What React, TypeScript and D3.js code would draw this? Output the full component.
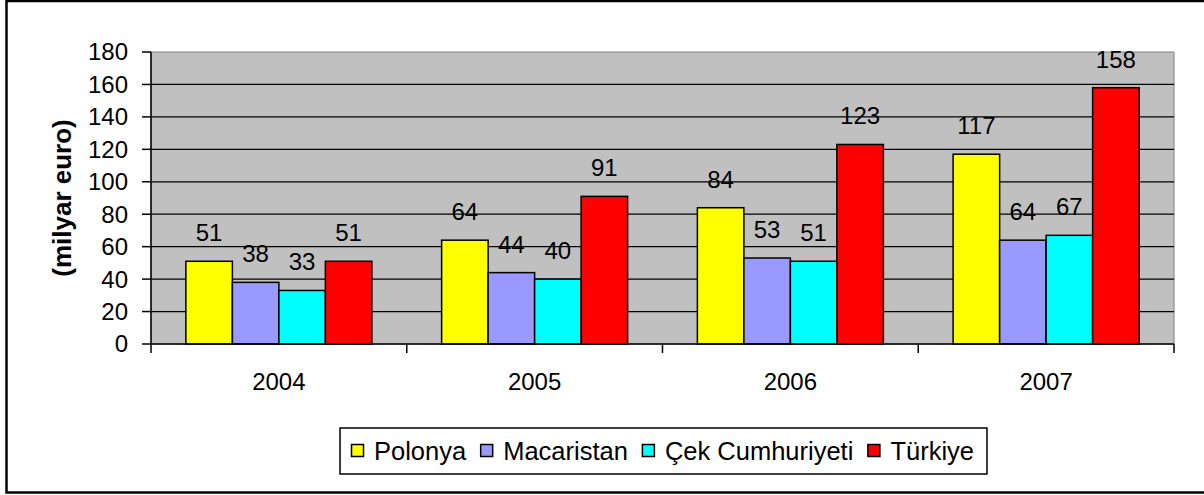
import { useEffect, useRef } from "react";
import * as d3 from "d3";

const YEARS = ["2004", "2005", "2006", "2007"];
const SERIES = ["Polonya", "Macaristan", "Çek Cumhuriyeti", "Türkiye"];
const COLORS = ["#FFFF00", "#9999FF", "#00FFFF", "#FF0000"];
const Y_TICKS = [0, 20, 40, 60, 80, 100, 120, 140, 160, 180];

const POLONYA = [51, 64, 84, 117];
const MACARISTAN = [38, 44, 53, 64];
const CEK = [33, 40, 51, 67];
const TURKIYE = [51, 91, 123, 158];

const VALUES = [POLONYA, MACARISTAN, CEK, TURKIYE];

const W = 1204;
const H = 495;
const PLOT = { left: 151, right: 1174, top: 52, bottom: 344 };
const FONT = "'Liberation Sans', Arial, sans-serif";
const FS = 24;

export default function App() {
  const legendRef = useRef<SVGGElement>(null);

  const x0 = d3.scaleBand().domain(YEARS).range([PLOT.left, PLOT.right]).paddingInner(0).paddingOuter(0);
  const x1 = d3.scaleBand().domain(SERIES).range([0, x0.bandwidth()]).paddingInner(0).paddingOuter(0.75);
  const y = d3.scaleLinear().domain([0, 180]).range([PLOT.bottom, PLOT.top]);

  // legend laid out from measured text widths
  useEffect(() => {
    const g = d3.select(legendRef.current);
    g.selectAll("*").remove();
    const box = g.append("rect").attr("fill", "white").attr("stroke", "black").attr("stroke-width", 1.5);
    const items = g.append("g");
    let cx = 0;
    SERIES.forEach((s, i) => {
      const it = items.append("g").attr("transform", `translate(${cx},0)`);
      it.append("rect")
        .attr("x", 0.5).attr("y", -6.5).attr("width", 12).attr("height", 12)
        .attr("fill", COLORS[i]).attr("stroke", "black").attr("stroke-width", 1.5);
      const t = it.append("text")
        .attr("x", 23).attr("y", 8.5)
        .attr("font-family", FONT).attr("font-size", 25.5)
        .text(s);
      const tw = (t.node() as SVGTextElement).getComputedTextLength();
      cx += 23 + tw + 14;
    });
    const total = cx - 14;
    const center = (PLOT.left + PLOT.right) / 2;
    const left = center - total / 2;
    items.attr("transform", `translate(${left},451)`);
    box.attr("x", left - 11).attr("y", 428).attr("width", total + 24).attr("height", 46);
  }, []);

  return (
    <div style={{ position: "absolute", left: 0, top: 0 }}>
      <svg width={W} height={H} style={{ display: "block" }}>
        <rect x={0} y={0} width={W} height={H} fill="white" />
        <rect x={6.5} y={1} width={W + 10} height={491.5} fill="none" stroke="black" strokeWidth={2.5} />

        {/* plot area */}
        <rect x={PLOT.left} y={PLOT.top} width={PLOT.right - PLOT.left} height={PLOT.bottom - PLOT.top} fill="#C0C0C0" stroke="#808080" strokeWidth={1} />
        {Y_TICKS.filter((t) => t > 0 && t < 180).map((t) => (
          <line key={t} x1={PLOT.left} x2={PLOT.right} y1={y(t)} y2={y(t)} stroke="black" strokeWidth={1.3} />
        ))}

        {/* bars */}
        {YEARS.map((yr, gi) => (
          <g key={yr} transform={`translate(${x0(yr)},0)`}>
            {SERIES.map((s, si) => {
              const v = VALUES[si][gi];
              return (
                <g key={s}>
                  <rect
                    x={x1(s)}
                    y={y(v)}
                    width={x1.bandwidth()}
                    height={y(0) - y(v)}
                    fill={COLORS[si]}
                    stroke="black"
                    strokeWidth={1.5}
                  />
                  <text
                    x={(x1(s) as number) + x1.bandwidth() / 2}
                    y={y(v) - 20}
                    textAnchor="middle"
                    fontFamily={FONT}
                    fontSize={FS}
                  >
                    {v}
                  </text>
                </g>
              );
            })}
          </g>
        ))}

        {/* axes */}
        <line x1={PLOT.left} x2={PLOT.left} y1={PLOT.top} y2={PLOT.bottom} stroke="black" strokeWidth={1.5} />
        <line x1={PLOT.left} x2={PLOT.right} y1={PLOT.bottom} y2={PLOT.bottom} stroke="black" strokeWidth={1.5} />
        {Y_TICKS.map((t) => (
          <g key={t}>
            <line x1={PLOT.left - 9} x2={PLOT.left} y1={y(t)} y2={y(t)} stroke="black" strokeWidth={1.5} />
            <text x={128} y={y(t)} dy="0.35em" textAnchor="end" fontFamily={FONT} fontSize={FS}>
              {t}
            </text>
          </g>
        ))}
        {[...YEARS.map((yr) => x0(yr) as number), PLOT.right].map((xv, i) => (
          <line key={i} x1={xv} x2={xv} y1={PLOT.bottom} y2={PLOT.bottom + 9} stroke="black" strokeWidth={1.5} />
        ))}
        {YEARS.map((yr) => (
          <text key={yr} x={(x0(yr) as number) + x0.bandwidth() / 2} y={390} textAnchor="middle" fontFamily={FONT} fontSize={FS}>
            {yr}
          </text>
        ))}
        <text
          transform={`translate(71,${(PLOT.top + PLOT.bottom) / 2}) rotate(-90)`}
          textAnchor="middle"
          fontFamily={FONT}
          fontSize={26}
          fontWeight="bold"
        >
          (milyar euro)
        </text>

        <g ref={legendRef} />
      </svg>
    </div>
  );
}
